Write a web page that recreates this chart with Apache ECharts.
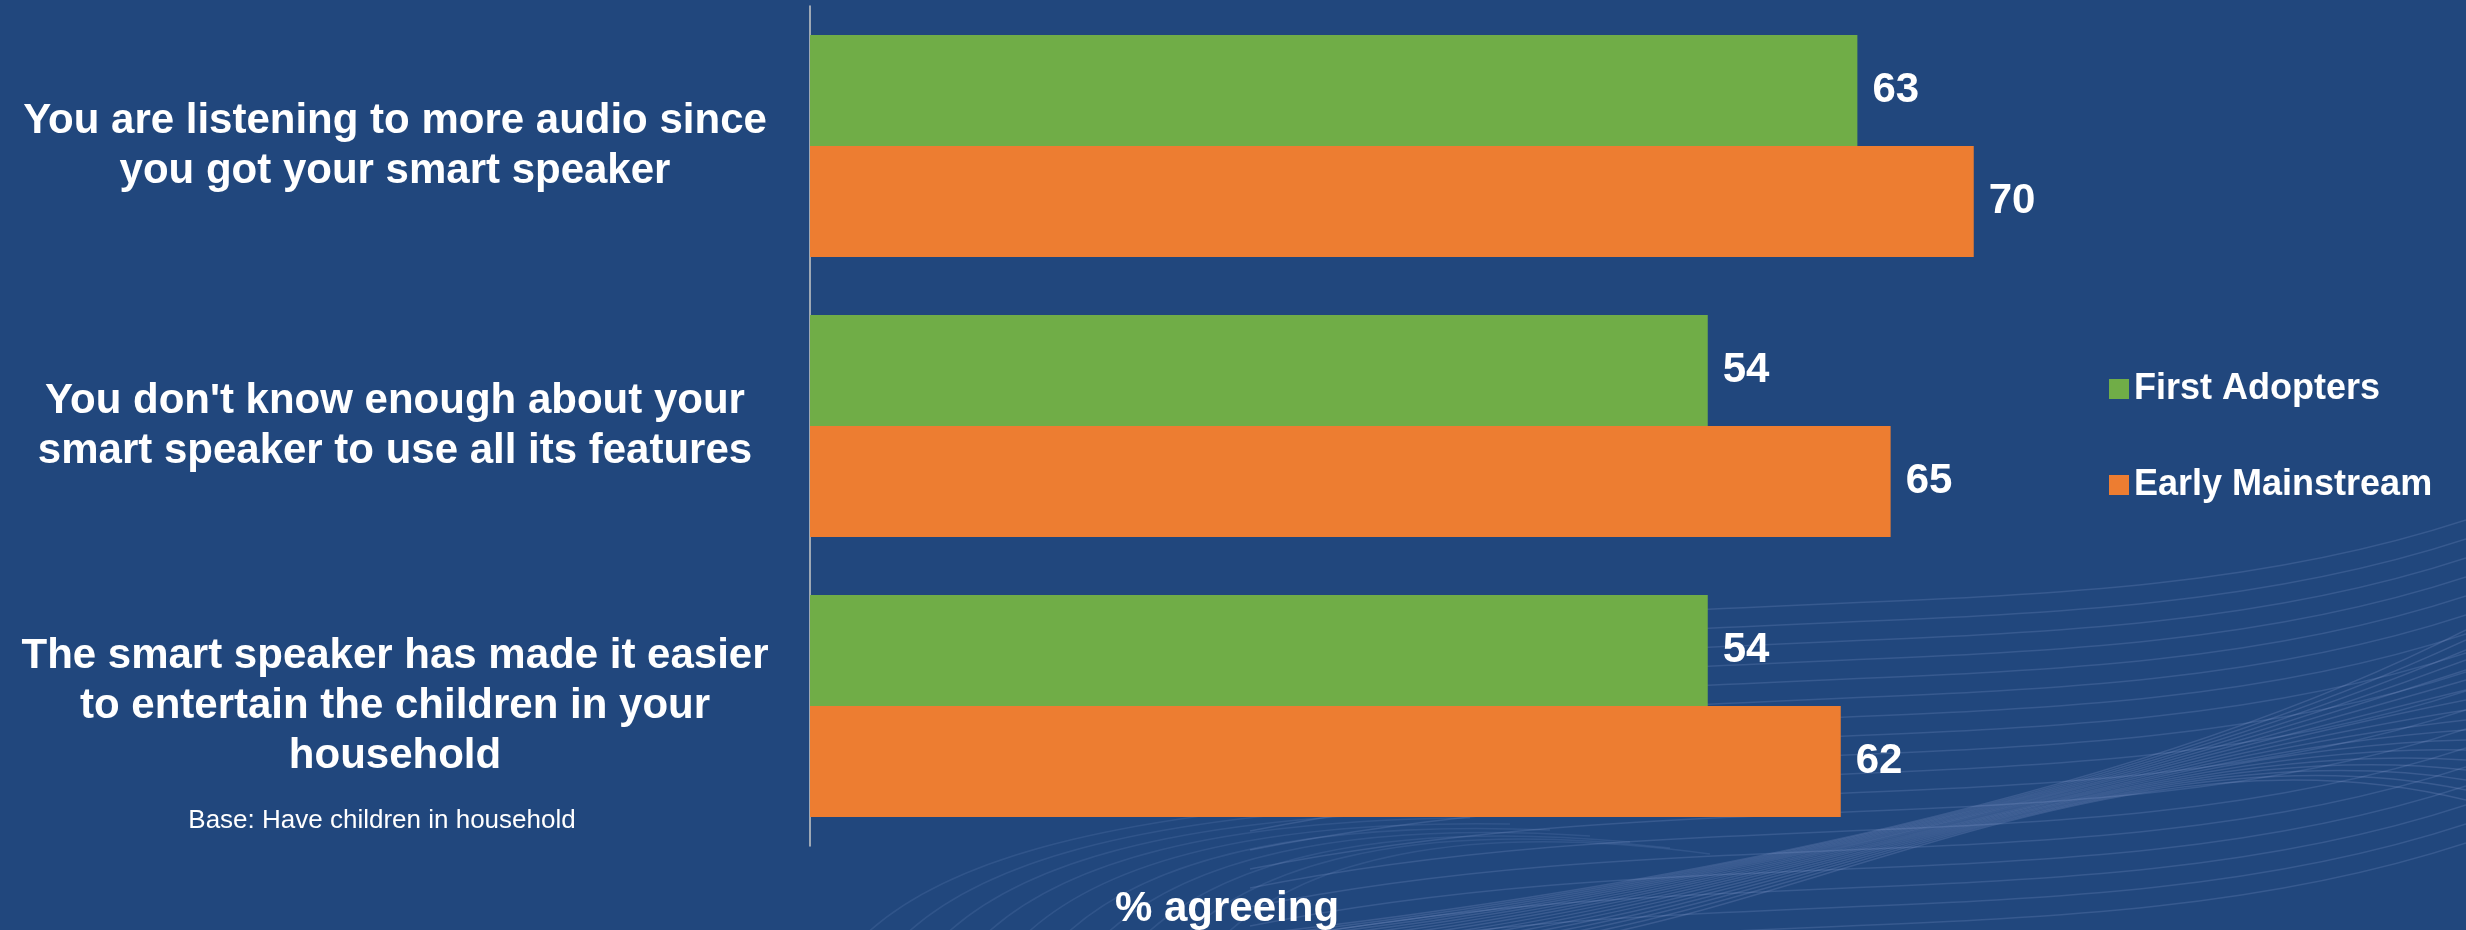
<!DOCTYPE html>
<html>
<head>
<meta charset="utf-8">
<title>Smart speaker attitudes</title>
<script src="https://cdn.jsdelivr.net/npm/echarts@6/dist/echarts.min.js"></script>
<style>
  html, body { margin: 0; padding: 0; background: #21477d; }
  #chart { width: 2466px; height: 930px; }
</style>
</head>
<body>
<div id="chart"></div>
<script>
// Data
const categories = [
  'You are listening to more audio since\nyou got your smart speaker',
  "You don't know enough about your\nsmart speaker to use all its features",
  'The smart speaker has made it easier\nto entertain the children in your\nhousehold'
];
const seriesNames = ['First Adopters', 'Early Mainstream'];
const firstAdopters = [63, 54, 54];
const earlyMainstream = [70, 65, 62];

const FONT = '"Liberation Sans", Arial, sans-serif';

// background swirl lines (decoration only)
const deco = [];
for (let i = 0; i < 18; i++) {
  const y = 600 + i * 19;
  deco.push({
    type: 'bezierCurve', silent: true,
    shape: { x1: 1250, y1: y + 60, cpx1: 1700, cpy1: y - 30, cpx2: 2100, cpy2: y + 40, x2: 2466, y2: y - 80 },
    style: { stroke: 'rgba(190,205,255,0.14)', lineWidth: 1.5, fill: null }
  });
}
for (let i = 0; i < 18; i++) {
  deco.push({
    type: 'bezierCurve', silent: true,
    shape: { x1: 1200 + i * 22, y1: 940, cpx1: 1680 + i * 10, cpy1: 890, cpx2: 2150, cpy2: 790 - i * 4, x2: 2466, y2: 630 + i * 10 },
    style: { stroke: 'rgba(200,210,255,0.15)', lineWidth: 1.5, fill: null }
  });
}
for (let i = 0; i < 10; i++) {
  deco.push({
    type: 'bezierCurve', silent: true,
    shape: { x1: 860 + i * 40, y1: 940, cpx1: 940 + i * 40, cpy1: 860, cpx2: 1100 + i * 40, cpy2: 820, x2: 1350 + i * 40, y2: 800 + i * 6 },
    style: { stroke: 'rgba(190,205,255,0.10)', lineWidth: 1.5, fill: null }
  });
}

const chart = echarts.init(document.getElementById('chart'));

const option = {
  backgroundColor: '#21477d',
  animation: false,
  textStyle: { fontFamily: FONT },
  grid: { left: 810, top: 6, width: 1330, height: 840, containLabel: false },
  legend: {
    orient: 'vertical',
    left: 2104,
    top: 366,
    itemWidth: 20,
    itemHeight: 20,
    itemGap: 60,
    icon: 'rect',
    data: seriesNames,
    textStyle: { color: '#ffffff', fontSize: 36, fontWeight: 'bold', fontFamily: FONT }
  },
  xAxis: {
    type: 'value',
    min: 0,
    max: 80,
    show: false
  },
  yAxis: {
    type: 'category',
    data: categories,
    inverse: true,
    axisLine: { show: true, lineStyle: { color: '#c8c8c8', width: 1.5 } },
    axisTick: { show: false },
    axisLabel: {
      color: '#ffffff',
      fontSize: 42,
      fontWeight: 'bold',
      fontFamily: FONT,
      lineHeight: 50,
      align: 'center',
      margin: 415
    }
  },
  series: [
    {
      name: seriesNames[0],
      type: 'bar',
      data: firstAdopters,
      barGap: '0%',
      barCategoryGap: '20.7%',
      itemStyle: { color: '#70ad47' },
      label: {
        show: true, position: 'right', distance: 15,
        color: '#ffffff', fontSize: 42, fontWeight: 'bold', fontFamily: FONT
      }
    },
    {
      name: seriesNames[1],
      type: 'bar',
      data: earlyMainstream,
      barGap: '0%',
      barCategoryGap: '20.7%',
      itemStyle: { color: '#ed7d31' },
      label: {
        show: true, position: 'right', distance: 15,
        color: '#ffffff', fontSize: 42, fontWeight: 'bold', fontFamily: FONT
      }
    }
  ],
  graphic: deco.concat([
    {
      type: 'text', left: 1115, top: 888,
      style: { text: '% agreeing', fill: '#ffffff', font: 'bold 42px ' + FONT }
    },
    {
      type: 'text', x: 382, y: 821,
      style: {
        text: 'Base: Have children in household', fill: '#ffffff',
        font: '26px ' + FONT, textAlign: 'center', textVerticalAlign: 'middle'
      }
    }
  ])
};

chart.setOption(option);
</script>
</body>
</html>
